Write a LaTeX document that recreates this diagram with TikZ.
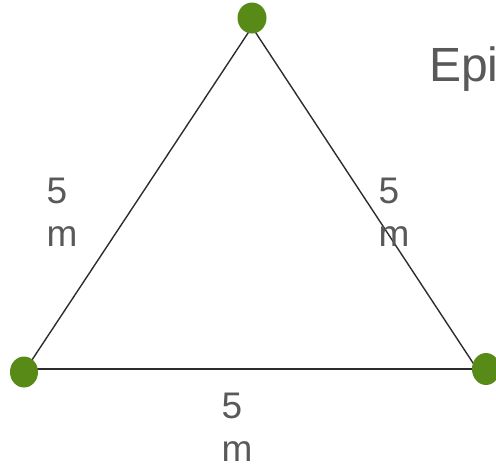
\documentclass[tikz,border=0pt]{standalone}
\usepackage{fontspec}
\setmainfont{Liberation Sans}
\usetikzlibrary{shapes.geometric}
\definecolor{dotgreen}{RGB}{88,138,24}
\definecolor{edgegray}{RGB}{45,45,45}
\definecolor{textgray}{RGB}{89,89,89}
\tikzset{
  vdot/.style={ellipse, fill=dotgreen, draw=none, minimum width=29pt, minimum height=31pt, inner sep=0pt},
  edgeline/.style={draw=edgegray, line width=1.4pt},
  lenlabel/.style={anchor=north west, inner sep=0pt, align=left, text=textgray, font=\fontsize{37}{43}\selectfont},
  titlelabel/.style={anchor=north west, inner sep=0pt, text=textgray, font=\fontsize{48}{56}\selectfont}
}
\begin{document}
\begin{tikzpicture}[x=1pt,y=-1pt]
\useasboundingbox (0,0) rectangle (496,467);
\clip (0,0) rectangle (496,467);
\coordinate (A) at (252,27);
\coordinate (B) at (26,369);
\coordinate (C) at (477,369);
\draw[edgeline] (A) -- (B);
\draw[edgeline] (B) -- (C);
\draw[edgeline] (C) -- (A);
\node[vdot] (top) at (252,18) {};
\node[vdot, minimum width=28pt] (left) at (24,372) {};
\node[vdot, minimum width=28pt, minimum height=32pt] (right) at (486,369) {};
\node[lenlabel] (ab) at (46.5,178) {5\\m};
\node[lenlabel] (ca) at (378.5,178) {5\\m};
\node[lenlabel] (bc) at (221.5,393) {5\\m};
\node[titlelabel] (title) at (429,46.5) {Epi};
\end{tikzpicture}
\end{document}
